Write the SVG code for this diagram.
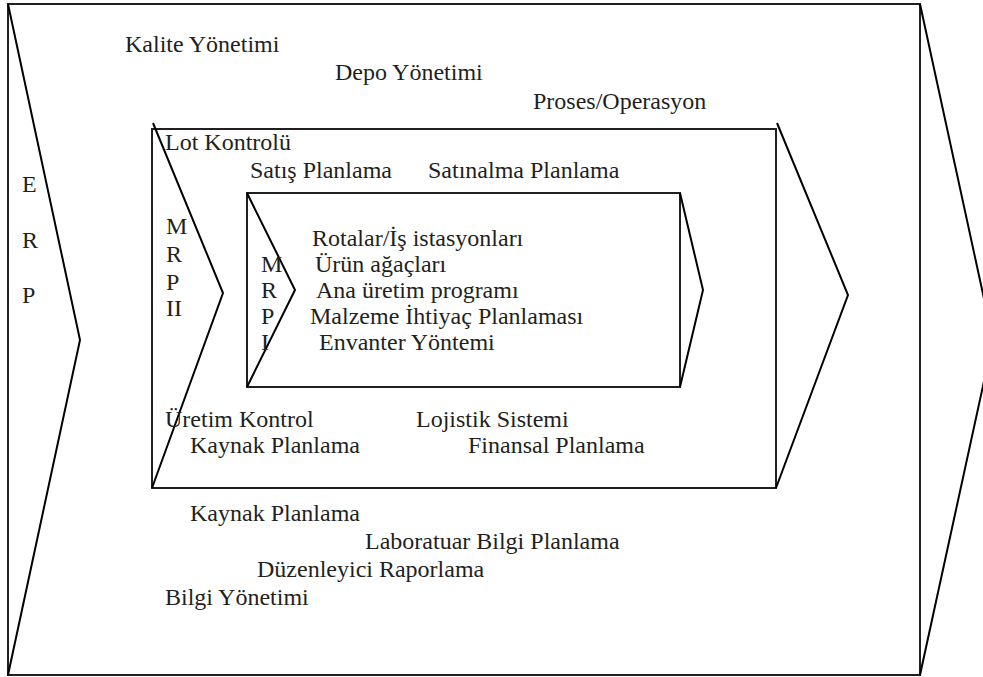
<svg xmlns="http://www.w3.org/2000/svg" width="983" height="677" viewBox="0 0 983 677">
  <style>
    .frame { fill: none; stroke: #231f20; stroke-width: 2; }
    .edge { fill: none; stroke: #000; stroke-width: 2; stroke-linejoin: miter; }
    text { font-family: "Liberation Serif", "Times New Roman", serif; font-size: 24px; fill: #231f20; }
  </style>
  <rect width="983" height="677" fill="#fff"/>

  <!-- ERP: outer layer -->
  <g id="erp">
    <rect class="frame" x="8" y="4" width="912" height="671"/>
    <polyline class="edge" points="8,4 80,340 8,675"/>
    <polyline class="edge" points="920,4 993,340 920,675"/>
    <text x="22" y="192">E</text>
    <text x="22" y="248">R</text>
    <text x="22" y="303">P</text>
    <text x="125" y="52">Kalite Yönetimi</text>
    <text x="335" y="80">Depo Yönetimi</text>
    <text x="533" y="109">Proses/Operasyon</text>
    <text x="190" y="521">Kaynak Planlama</text>
    <text x="365" y="549">Laboratuar Bilgi Planlama</text>
    <text x="257" y="577">Düzenleyici Raporlama</text>
    <text x="165" y="605">Bilgi Yönetimi</text>
  </g>

  <!-- MRP II: middle layer -->
  <g id="mrp2">
    <rect class="frame" x="152" y="129" width="624" height="359"/>
    <polyline class="edge" points="153,123 223,293 152,488"/>
    <polyline class="edge" points="777,123 848,295 776,488"/>
    <text x="165" y="150">Lot Kontrolü</text>
    <text x="250" y="178">Satış Planlama</text>
    <text x="428" y="178">Satınalma Planlama</text>
    <text x="166" y="234">M</text>
    <text x="166" y="262">R</text>
    <text x="166" y="290">P</text>
    <text x="166" y="316">II</text>
    <text x="165" y="427">Üretim Kontrol</text>
    <text x="190" y="453">Kaynak Planlama</text>
    <text x="416" y="427">Lojistik Sistemi</text>
    <text x="468" y="453">Finansal Planlama</text>
  </g>

  <!-- MRP I: inner layer -->
  <g id="mrp1">
    <rect class="frame" x="247" y="193" width="433" height="194"/>
    <polyline class="edge" points="247,193 295,290 247,387"/>
    <polyline class="edge" points="680,193 703,290 680,387"/>
    <text x="261" y="272">M</text>
    <text x="261" y="298">R</text>
    <text x="261" y="324">P</text>
    <text x="261" y="350">I</text>
    <text x="312" y="246">Rotalar/İş istasyonları</text>
    <text x="315" y="272">Ürün ağaçları</text>
    <text x="316" y="298">Ana üretim programı</text>
    <text x="310" y="324">Malzeme İhtiyaç Planlaması</text>
    <text x="319" y="350">Envanter Yöntemi</text>
  </g>
</svg>
